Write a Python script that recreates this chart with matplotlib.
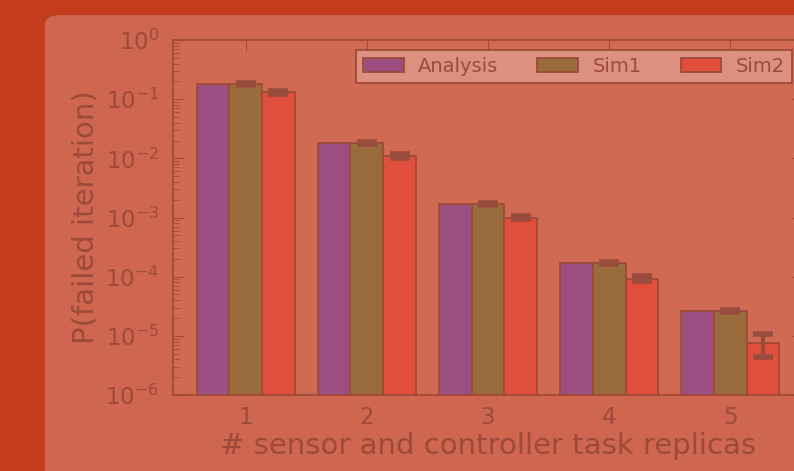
import numpy as np
import matplotlib.pyplot as plt
from matplotlib.patches import FancyBboxPatch

# data
replicas = [1, 2, 3, 4, 5]
analysis = [0.18, 0.018, 0.0017, 1.7e-4, 2.6e-5]
sim1 = [0.18, 0.018, 0.0017, 1.7e-4, 2.6e-5]
sim1_err = [0.006, 0.0006, 5e-5, 5e-6, 1e-6]
sim2 = [0.13, 0.011, 0.001, 9.2e-5, 7.6e-6]
sim2_err = [0.006, 0.0007, 7e-5, 9e-6, 3.2e-6]

txt = '#9c4b3a'
edge = '#a04a38'

fig = plt.figure(figsize=(7.94, 4.71), dpi=100)
fig.patch.set_facecolor('#c33d1d')

# lighter panel behind the chart
panel = FancyBboxPatch((45 / 794, -0.1), 1.0, 1.1 - 15 / 471,
                       boxstyle='round,pad=0,rounding_size=0.02',
                       transform=fig.transFigure, facecolor='#cf6650',
                       edgecolor='none', zorder=-5)
fig.patches.append(panel)

ax = fig.add_axes([173 / 794, 76 / 471, 630 / 794, 355 / 471])
ax.set_facecolor('#d06a53')

x = np.array(replicas, dtype=float)
w = 0.27
ax.bar(x - w, analysis, w, color='#9b4e7f', edgecolor=edge, linewidth=1.3,
       label='Analysis', zorder=2)
ax.bar(x, sim1, w, color='#9a6c3c', edgecolor=edge, linewidth=1.3,
       label='Sim1', zorder=2)
ax.bar(x + w, sim2, w, color='#df4f3c', edgecolor=edge, linewidth=1.3,
       label='Sim2', zorder=2)
ax.errorbar(x, sim1, yerr=sim1_err, fmt='none', ecolor='#9a4c3c',
            elinewidth=3, capsize=7, capthick=4, zorder=3)
ax.errorbar(x + w, sim2, yerr=sim2_err, fmt='none', ecolor='#9a4c3c',
            elinewidth=3, capsize=7, capthick=4, zorder=3)

ax.set_yscale('log')
ax.set_ylim(1e-6, 1)
ax.set_xlim(0.4, 5.6)
ax.set_xticks(replicas)
ax.set_yticks([1e-6, 1e-5, 1e-4, 1e-3, 1e-2, 1e-1, 1e0])

for s in ax.spines.values():
    s.set_color(edge)
    s.set_linewidth(1.3)
ax.tick_params(axis='both', which='both', direction='in', colors=edge,
               labelcolor=txt, labelsize=16.5, top=True, right=True)
ax.tick_params(axis='y', which='major', length=8, pad=10)
ax.tick_params(axis='y', which='minor', length=4)
ax.tick_params(axis='x', which='major', length=8, pad=8)

ax.set_xlabel('# sensor and controller task replicas', fontsize=21,
              color=txt, labelpad=2)
ax.set_ylabel('P(failed iteration)', fontsize=21, color=txt, labelpad=4)

leg = ax.legend(ncol=3, loc='upper right', fontsize=14, frameon=True,
                fancybox=False, bbox_to_anchor=(1 - 11 / 630, 1 - 10 / 355),
                borderaxespad=0, handlelength=2.1, handleheight=0.7,
                handletextpad=0.75, columnspacing=2.0, borderpad=0.35)
leg.get_frame().set_facecolor('#dd9080')
leg.get_frame().set_edgecolor(edge)
leg.get_frame().set_linewidth(1.3)
leg.get_frame().set_alpha(1)
for t in leg.get_texts():
    t.set_color(txt)

fig.savefig('out.png', dpi=100, facecolor=fig.get_facecolor())
